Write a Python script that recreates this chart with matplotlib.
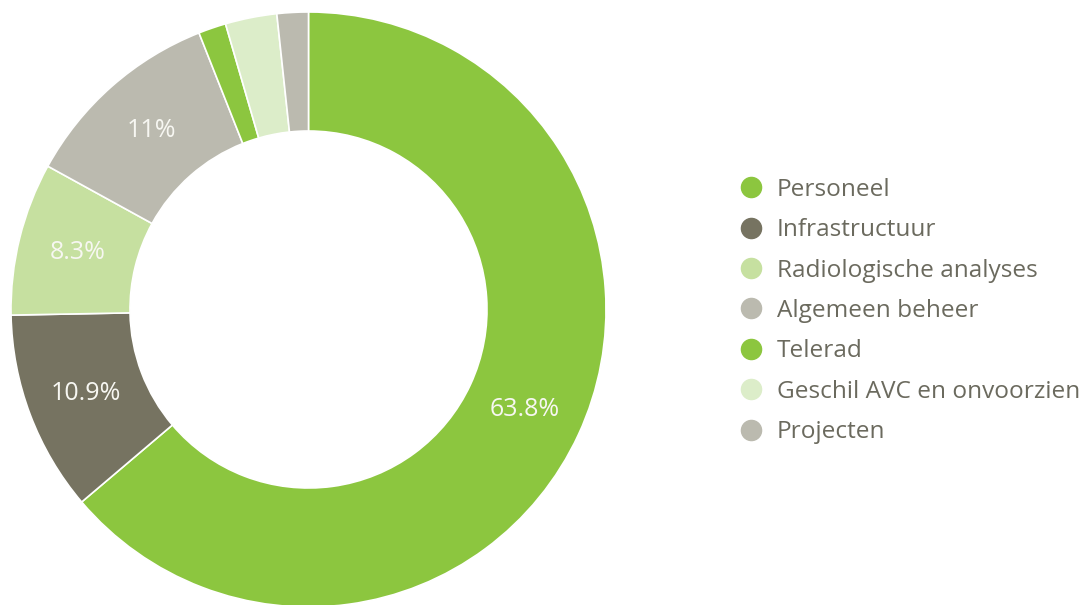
import matplotlib.pyplot as plt
from matplotlib.lines import Line2D

plt.rcParams['font.family'] = ['Open Sans', 'DejaVu Sans']

# Budget shares (%)
labels = ["Personeel", "Infrastructuur", "Radiologische analyses", "Algemeen beheer",
          "Telerad", "Geschil AVC en onvoorzien", "Projecten"]
values = [63.8, 10.9, 8.3, 11.0, 1.5, 2.8, 1.7]
colors = ["#8cc63f", "#767361", "#c6e0a0", "#bbbaaf", "#8cc63f", "#dcedc9", "#bbbaaf"]


def pct_label(p):
    # small slices get no label
    if p < 5:
        return ""
    return f"{p:.1f}%".replace(".0%", "%")


fig = plt.figure(figsize=(10.87, 6.05), dpi=100)
ax = fig.add_axes([11 / 1087, -2 / 605, 595 / 1087, 595 / 605])

wedges, texts, autotexts = ax.pie(
    values, colors=colors, startangle=90, counterclock=False,
    autopct=pct_label, pctdistance=0.8,
    wedgeprops=dict(width=0.4, edgecolor="white", linewidth=1.2),
    textprops=dict(color="#f7f7f2", fontsize=18))
ax.set_xlim(-1, 1)
ax.set_ylim(-1, 1)
ax.set_aspect("equal")
ax.axis("off")

handles = [Line2D([0], [0], marker="o", linestyle="", markersize=14.5,
                  markerfacecolor=c, markeredgecolor=c) for c in colors]
fig.legend(handles, labels, loc="center left", bbox_to_anchor=(727 / 1087, 1 - 311 / 605),
           frameon=False, fontsize=17.6, labelcolor="#6b6a5e",
           handletextpad=0.55, labelspacing=0.67, handlelength=1.0, borderpad=0)

fig.savefig("out.png", dpi=100)
